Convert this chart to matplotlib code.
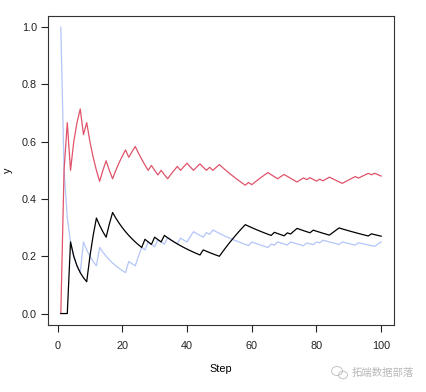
import numpy as np
import matplotlib
matplotlib.use("Agg")
import matplotlib.pyplot as plt
from matplotlib.patches import Ellipse

# Sequence of choices (R = red, K = black, B = blue), steps 1..100
choices = list(
    "BRRKRRRBRK"
    "KKBRRKKRRR"
    "RBRRBBKBRK"
    "BRKBRRRBRR"
    "BBRRKBRBRR"
    "KKKKKKKKRB"
    "RRRRRBKBRR"
    "KBKKRRBRKB"
    "RBRRKKKBRR"
    "RRBRRRKRBB"
)
steps = np.arange(1, len(choices) + 1)
categories = ["R", "K", "B"]
series_colors = {"R": "#E0536B", "K": "#000000", "B": "#B3C6F8"}
xticks = [0, 20, 40, 60, 80, 100]
yticks = [0.0, 0.2, 0.4, 0.6, 0.8, 1.0]
ytick_labels = ["0.0", "0.2", "0.4", "0.6", "0.8", "1.0"]

plt.rcParams['font.family'] = ['Liberation Sans', 'DejaVu Sans']

fig = plt.figure(figsize=(4.27, 3.92), dpi=100)
ax = fig.add_axes([48/427, 1-325/392, (394-48)/427, (325-15.7)/392])

arr = np.array(choices)
for cat in ["B", "R", "K"]:
    prop = np.cumsum(arr == cat) / steps
    ax.plot(steps, prop, color=series_colors[cat], lw=0.9)

ax.set_xlim(-2.96, 103.96)
ax.set_ylim(-0.04, 1.04)
ax.set_xticks(xticks)
ax.set_xticklabels([str(t) for t in xticks])
ax.set_yticks(yticks)
ax.set_yticklabels(ytick_labels)
ax.tick_params(axis='both', direction='out', length=5, width=0.8, labelsize=7.8, colors='#222222')
ax.tick_params(axis='x', pad=6.5)
ax.tick_params(axis='y', pad=3)
for s in ax.spines.values():
    s.set_linewidth(0.8)
    s.set_color('#333333')

fig.text(221/427, 1-369/392, "Step", ha='center', va='center', fontsize=7.8)
fig.text(8/427, 1-170/392, "y", ha='center', va='center', rotation=90, fontsize=7.8)

# watermark
fig.text(383/427, 1-373/392, "拓端数据部落", ha='center', va='center', fontsize=7.5,
         color='#b8b8b8', family=['Noto Sans CJK SC', 'DejaVu Sans'])
e1 = Ellipse((337/427, 1-371/392), 11/427, 9/392, transform=fig.transFigure,
             fill=False, ec='#c4c4c4', lw=0.7)
e2 = Ellipse((343/427, 1-375/392), 9/427, 7.5/392, transform=fig.transFigure,
             fill=False, ec='#c4c4c4', lw=0.7)
fig.patches.extend([e1, e2])

fig.savefig("out.png", dpi=100)
